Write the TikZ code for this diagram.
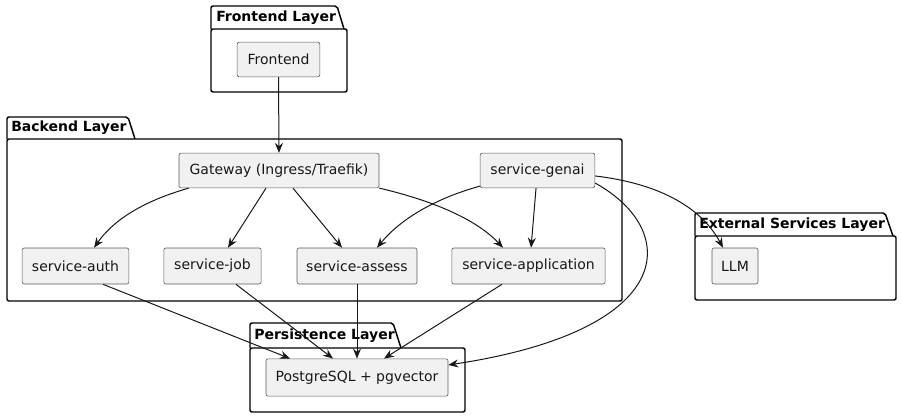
\documentclass[tikz,border=0pt]{standalone}
\usepackage{fontspec}
\setmainfont{DejaVu Sans}
\usepackage{xcolor}
\usepackage{tikz}
\usetikzlibrary{arrows.meta, positioning, calc}
\definecolor{umlink}{RGB}{24,24,24}
\definecolor{umlfill}{RGB}{241,241,241}
\definecolor{umlline}{RGB}{90,90,90}
\tikzset{every node/.append style={align=center}}
\tikzset{
  svc/.style={rectangle, draw=umlline, fill=umlfill, line width=0.45pt, rounded corners=1.5pt,
    minimum height=27pt, inner sep=0pt, font=\fontsize{10.5}{12}\selectfont, text=umlink},
  pkg/.style={draw=black, line width=1.1pt, rounded corners=1.5pt},
  pkglbl/.style={anchor=west, inner sep=0pt, font=\fontsize{10.5}{12}\selectfont\bfseries},
  arrow/.style={-{Stealth[length=7.5pt, width=6pt, inset=2.5pt]}, line width=0.75pt, umlink}
}
\begin{document}
\begin{tikzpicture}[x=0.75pt, y=-0.75pt]
  \useasboundingbox (0,0) rectangle (902,418);
  % layers
  \draw[pkg] (211,29) -- (211,6) -- (337,6) -- (344,29);
  \draw[pkg] (211,29) rectangle (347,92);
  \node[pkglbl] (lfront) at (216,17.5) {Frontend Layer};
  \draw[pkg] (7,139) -- (7,117) -- (128,117) -- (135,139);
  \draw[pkg] (7,139) rectangle (622,301);
  \node[pkglbl] (lback) at (11,128) {Backend Layer};
  \draw[pkg] (695,236) -- (695,213) -- (885,213) -- (893,236);
  \draw[pkg] (695,236) rectangle (896,300);
  \node[pkglbl] (lext) at (699,224.5) {External Services Layer};
  \draw[pkg] (250,348) -- (250,323) -- (393,323) -- (401,348);
  \draw[pkg] (250,348) rectangle (465,412);
  \node[pkglbl] (lpers) at (254,335.5) {Persistence Layer};
  % components
  \node[svc, minimum width=62pt, minimum height=26pt] (front) at (278.5,59.5) {Frontend};
  \node[svc, minimum width=150pt, minimum height=26pt] (gw) at (279,170.5) {Gateway (Ingress/Traefik)};
  \node[svc, minimum width=86pt, minimum height=26pt] (genai) at (537.5,170.5) {service-genai};
  \node[svc, minimum width=80pt] (auth) at (75.5,266) {service-auth};
  \node[svc, minimum width=73pt] (job) at (212.5,266) {service-job};
  \node[svc, minimum width=90pt] (assess) at (357,266) {service-assess};
  \node[svc, minimum width=115pt] (app) at (528.5,266) {service-application};
  \node[svc, minimum width=34.5pt] (llm) at (735,266) {LLM};
  \node[svc, minimum width=136.5pt, minimum height=28pt] (pg) at (357,377.5) {PostgreSQL + pgvector};
  % connectors
  \draw[arrow] (front.south) -- (gw.north);
  \draw[arrow] ([xshift=7.5pt]gw.south west) .. controls (140,202) and (112,222) .. ([xshift=13.9pt]auth.north);
  \draw[arrow] ([xshift=-9.75pt]gw.south) -- ([xshift=11.6pt]auth.north -| job.north);
  \draw[arrow] ([xshift=10.5pt]gw.south) -- ([xshift=-11.25pt]assess.north);
  \draw[arrow] (gw.south east) .. controls (430,200) and (475,218) .. ([xshift=-19.1pt]app.north);
  \draw[arrow] ([yshift=1.5pt]genai.south west) .. controls (430,200) and (398,222) .. ([xshift=15pt]assess.north);
  \draw[arrow] ([xshift=-1.1pt]genai.south) -- ([xshift=1.9pt]app.north);
  \draw[arrow] ([yshift=-4.1pt]genai.east) .. controls (655,183) and (700,205) .. ([xshift=-9pt]llm.north);
  \draw[arrow] ([yshift=-9.4pt]genai.east) .. controls (680,230) and (680,330) .. ([yshift=9.4pt]pg.east);
  \draw[arrow] ([xshift=20.6pt]auth.south) -- ([xshift=-50.25pt]pg.north);
  \draw[arrow] ([xshift=17.6pt]job.south) -- ([xshift=-18pt]pg.north);
  \draw[arrow] (assess.south) -- (pg.north);
  \draw[arrow] ([xshift=-19.9pt]app.south) -- ([xshift=20.25pt]pg.north);
\end{tikzpicture}
\end{document}
